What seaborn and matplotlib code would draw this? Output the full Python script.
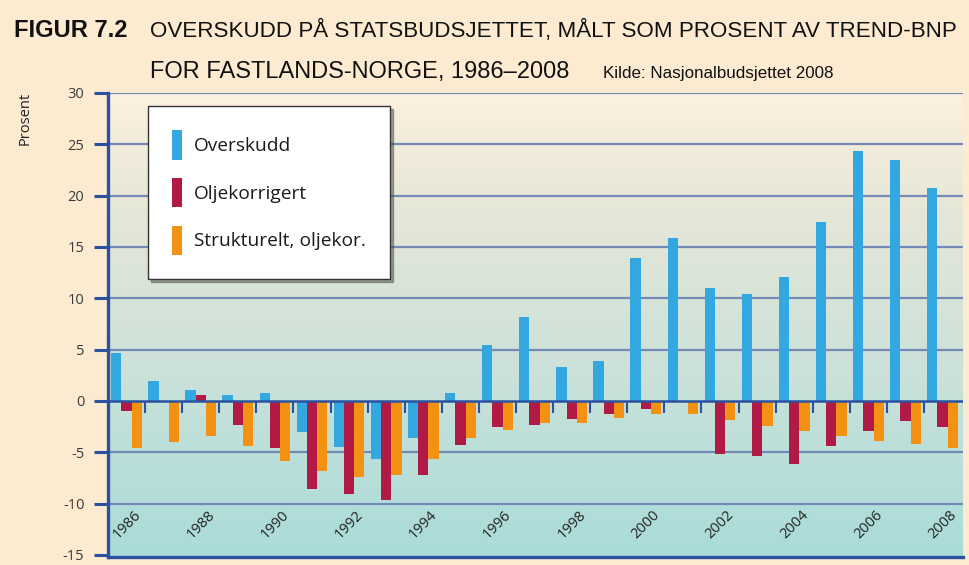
import seaborn as sns
import matplotlib.pyplot as plt
import pandas as pd
import numpy as np
from matplotlib.colors import LinearSegmentedColormap

# Data (percent of trend-GDP for mainland Norway)
years = list(range(1986, 2009))
overskudd = [4.7, 1.9, 1.1, 0.6, 0.8, -3.0, -4.5, -5.7, -3.65, 0.8, 5.45, 8.2,
             3.3, 3.85, 13.95, 15.9, 11.0, 10.45, 12.1, 17.4, 24.35, 23.5, 20.7]
oljekorrigert = [-1.0, 0.0, 0.6, -2.3, -4.6, -8.55, -9.1, -9.6, -7.2, -4.3, -2.55, -2.3,
                 -1.8, -1.25, -0.75, 0.0, -5.15, -5.4, -6.1, -4.4, -2.9, -1.95, -2.55]
strukturelt = [-4.6, -4.0, -3.4, -4.4, -5.8, -6.85, -7.45, -7.2, -5.7, -3.65, -2.85, -2.1,
               -2.1, -1.7, -1.25, -1.3, -1.85, -2.4, -2.95, -3.45, -3.9, -4.2, -4.6]
series = ["Overskudd", "Oljekorrigert", "Strukturelt, oljekor."]
colors = ["#33a7e0", "#b01a44", "#f39112"]
yticks = [-15, -10, -5, 0, 5, 10, 15, 20, 25, 30]

df = pd.DataFrame({
    "År": np.tile(years, 3),
    "Serie": np.repeat(series, len(years)),
    "Prosent": overskudd + oljekorrigert + strukturelt,
})

sns.set_style("white")
plt.rcParams["font.family"] = ["Open Sans", "DejaVu Sans"]

bg = "#fdebd1"
fig = plt.figure(figsize=(9.7, 5.65), dpi=100, facecolor=bg)
ax = fig.add_axes([108 / 970, 1 - 557 / 565, 855 / 970, 464 / 565])

# gradient plot background
cmap = LinearSegmentedColormap.from_list(
    "bg", [(0, "#a9dcda"), (0.45, "#cfe2d9"), (0.75, "#e6e7d8"), (1, "#fdf0de")])
grad = np.linspace(0, 1, 256).reshape(-1, 1)
ax.imshow(grad, extent=[0, 1, 0, 1], transform=ax.transAxes, aspect="auto",
          cmap=cmap, origin="lower", zorder=0)

sns.barplot(data=df, x="År", y="Prosent", hue="Serie", hue_order=series,
            palette=dict(zip(series, colors)), width=0.83, linewidth=0,
            saturation=1, ax=ax, zorder=3)

ax.set_ylim(-15.2, 30)
ax.set_xlim(-0.5, len(years) - 0.45)
ax.set_yticks(yticks)
ax.set_yticklabels([str(t) for t in yticks], fontsize=10.5, color="#3a3a3a")
ax.tick_params(axis="y", length=10, width=2.2, color="#2a52a0", pad=7, left=True)
ax.set_xticks([])
ax.set_xlabel("")
ax.set_ylabel("")

for t in yticks[1:]:
    if t != 0:
        ax.axhline(t, color="#7389b6", lw=1.6, zorder=1)
ax.axhline(0, color="#2a52a0", lw=1.8, zorder=4)
ax.vlines(np.arange(len(years) - 1) + 0.5, -1.15, 0, color="#2a52a0", lw=1.5, zorder=4)

for s in ["top", "right"]:
    ax.spines[s].set_visible(False)
for s in ["left", "bottom"]:
    ax.spines[s].set_color("#2a52a0")
    ax.spines[s].set_linewidth(2.4)

# year labels inside the plot
for i, y in enumerate(years):
    if y % 2 == 0:
        ax.text(i, -12.1, str(y), rotation=45, ha="center", va="center",
                fontsize=10.5, color="#222222", zorder=5)

handles, labels = ax.get_legend_handles_labels()
leg = ax.legend(handles, labels, loc="upper left", bbox_to_anchor=(0.047, 0.972),
                borderaxespad=0, frameon=True, fancybox=False, shadow=True,
                fontsize=13.8, handlelength=0.5, handleheight=2.0, handletextpad=0.65,
                labelspacing=0.95, borderpad=1.25)
leg.get_frame().set_edgecolor("#333333")
leg.get_frame().set_linewidth(1.0)
leg.set_zorder(10)
for txt in leg.get_texts():
    txt.set_color("#1a1a1a")

fig.text(0.026, 0.79, "Prosent", rotation=90, ha="center", va="center",
         fontsize=10.5, color="#222222")

# title lines, sized to the widths they take in the original
renderer = fig.canvas.get_renderer()


def fitted(x, y, s, width_px, **kw):
    t = fig.text(x / 970, 1 - y / 565, s, va="baseline", color="#111111",
                 family=["Liberation Sans", "DejaVu Sans"], fontsize=16, **kw)
    w = t.get_window_extent(renderer).width
    t.set_fontsize(16 * width_px / w)
    return t


fitted(14, 37, "FIGUR 7.2", 114, fontweight="bold")
fitted(150, 37, "OVERSKUDD PÅ STATSBUDSJETTET, MÅLT SOM PROSENT AV TREND-BNP", 808)
fitted(150, 78, "FOR FASTLANDS-NORGE, 1986–2008", 420)
fitted(603, 78, "Kilde: Nasjonalbudsjettet 2008", 230)

plt.savefig("out.png", dpi=100, facecolor=bg)
plt.close()
